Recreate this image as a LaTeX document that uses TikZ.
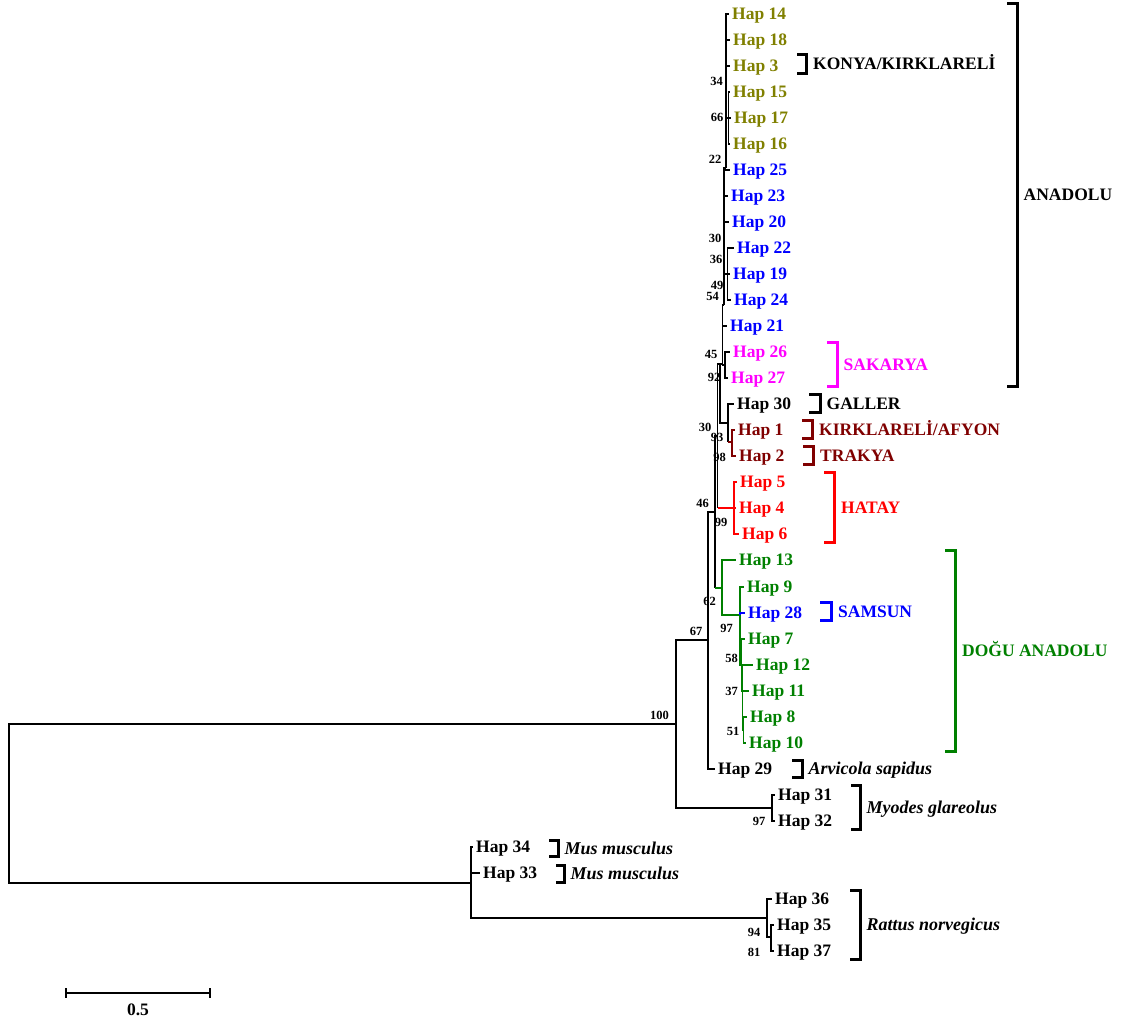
\documentclass[tikz,border=0pt]{standalone}
\usepackage{fontspec}
\setmainfont{Liberation Serif}
\usetikzlibrary{positioning}
\definecolor{colive}{HTML}{808000}
\definecolor{cblue}{HTML}{0000FF}
\definecolor{cmagenta}{HTML}{FF00FF}
\definecolor{cdarkred}{HTML}{800000}
\definecolor{cred}{HTML}{FF0000}
\definecolor{cgreen}{HTML}{008000}
\tikzset{
  branch/.style={line width=1.9pt},
  grp/.style={line width=3pt},
  hap/.style={font=\fontsize{17.5}{18}\selectfont\bfseries, inner sep=0pt, text height=11.8pt, text depth=0pt, anchor=west},
  sp/.style={hap, font=\fontsize{18}{19}\selectfont\bfseries\itshape},
  boot/.style={font=\fontsize{12.5}{13}\selectfont\bfseries, inner sep=0pt},
}
\begin{document}
\begin{tikzpicture}[x=1pt, y=-1pt]
  \useasboundingbox (0,0) rectangle (1130,1025);

  % Internal nodes of the tree
  \foreach \n/\x/\y in {root/9/803.5, n100/676/724, nMy/772/808, nA/708/640, nB/715/512,
      nC/717.5/436, nD/720/364, nE/722.5/364, nF/724/305, nO/726/168, n66/728.5/118,
      n36/727.5/274, n92/725/365, nK/728/423, n98/732/442, nH/734/508, nG/722/588,
      nG2/740/615, nG3/741.5/665, nG4/742.5/691, nG5/743.5/730, nMus/471/883,
      nR1/767/918, nR2/771/937}
    \coordinate (\n) at (\x,\y);

  % Bootstrap values
  \foreach \v/\x/\y [count=\k] in {34/716.5/81, 66/717/117, 22/715/159, 30/715/238, 36/716/259,
      49/717/285, 54/712.5/296, 45/711/354, 92/714/377, 30/705/427, 93/717/437, 98/719.5/457,
      46/702.5/503, 99/721/522, 62/709.5/601, 97/726.5/628, 58/731.5/658, 37/731.5/691,
      51/733/731, 67/696/631, 100/659.5/715, 97/759/821, 94/754/932, 81/754/952}
    \node[boot] (b\k) at (\x,\y) {\v};

  % Leaves: tip, then label
  \foreach \id/\x/\y/\col in {14/729/14/colive, 18/730/40/colive, 3/730/66/colive,
      15/730/92/colive, 17/731/118/colive, 16/730/144/colive, 25/730/170/cblue,
      23/728/196/cblue, 20/729/222/cblue, 22/734/248/cblue, 19/730/274/cblue,
      24/731/300/cblue, 21/727/326/cblue, 26/730/352/cmagenta, 27/728/378/cmagenta,
      30/734/404/black, 1/735/430/cdarkred, 2/736/456/cdarkred, 5/737/482/cred,
      4/736/508/cred, 6/739/534/cred, 13/736/560/cgreen, 9/744/587/cgreen,
      28/745/613/cblue, 7/745/639/cgreen, 12/753/665/cgreen, 11/749/691/cgreen,
      8/747/717/cgreen, 10/746/743/cgreen, 29/715/769/black, 31/775/795/black,
      32/775/821/black, 34/473/847/black, 33/480/873/black, 36/772/899/black,
      35/774/925/black, 37/774/951/black}
  {
    \coordinate (t\id) at (\x,\y);
    \node[hap, text=\col, right=3pt of t\id] (h\id) {Hap \id};
  }

  % Black branches
  \foreach \p/\c in {root/n100, root/nMus, n100/nA, n100/nMy, nMy/t31, nMy/t32,
      nA/nB, nA/t29, nB/nC, nC/nD, nD/nE, nD/nK, nE/nF, nE/t21, nE/n92,
      nF/nO, nF/t25, nF/t23, nF/t20, nF/n36, n36/t22, n36/t19, n36/t24,
      nO/t14, nO/t18, nO/t3, nO/n66, n66/t15, n66/t17, n66/t16, n92/t26, n92/t27,
      nK/t30, nMus/t34, nMus/t33, nMus/nR1, nR1/t36, nR1/nR2, nR2/t35, nR2/t37}
    \draw[branch] (\p) |- (\c);

  % Coloured clades
  \draw[branch] (nB) -- (nB |- nG);
  \draw[branch, cgreen] (nB |- nG) -- (nG);
  \draw[branch] (nC) -- (nC |- nH);
  \draw[branch, cred] (nC |- nH) -- (nH);
  \draw[branch] (nK) -- (nK |- n98);
  \draw[branch, cdarkred] (nK |- n98) -- (n98);
  \foreach \c in {t1, t2}
    \draw[branch, cdarkred] (n98) |- (\c);
  \foreach \c in {t5, t4, t6}
    \draw[branch, cred] (nH) |- (\c);
  \foreach \p/\c in {nG/t13, nG/nG2, nG2/t9, nG2/nG3, nG3/t7, nG3/nG4, nG4/t12,
      nG4/t11, nG4/nG5, nG5/t8, nG5/t10}
    \draw[branch, cgreen] (\p) |- (\c);
  \draw[branch, cblue] (nG2) |- (t28);

  % Region brackets
  \foreach \xa/\xb/\ya/\yb/\col/\txt [count=\k] in {797/806.5/54.5/73.5/black/{KONYA/KIRKLARELİ},
      1007/1017/3.5/386.5/black/ANADOLU, 827/837/342.5/386.5/cmagenta/SAKARYA,
      809/820/394.5/412.5/black/GALLER, 802/812.5/420.5/438.5/cdarkred/{KIRKLARELİ/AFYON},
      803/813.5/446.5/464.5/cdarkred/TRAKYA, 824/834.5/472.5/542.5/cred/HATAY,
      820/831.5/602.5/620.5/cblue/SAMSUN, 945/955.5/550.5/751.5/cgreen/{DOĞU ANADOLU}}
  {
    \draw[grp, \col] (\xa,\ya) -| (\xb,\yb) -- (\xa,\yb);
    \node[hap, text=\col] (g\k) at ({\xb+6.5},{(\ya+\yb)/2}) {\txt};
  }

  % Species brackets
  \foreach \xa/\xb/\ya/\yb/\txt [count=\k] in {792/802.5/760.5/777.5/Arvicola sapidus,
      851/860.5/785.5/829.5/Myodes glareolus, 549/558.5/840.5/856.5/Mus musculus,
      556/564.5/865.5/882.5/Mus musculus, 850/860.5/890.5/959.5/Rattus norvegicus}
  {
    \draw[grp] (\xa,\ya) -| (\xb,\yb) -- (\xa,\yb);
    \node[sp] (s\k) at ({\xb+6},{(\ya+\yb)/2}) {\txt};
  }

  % Scale bar
  \coordinate (sbl) at (66,993);
  \coordinate (sbr) at (210,993);
  \draw[branch] (sbl) -- (sbr);
  \draw[branch] ([yshift=5pt]sbl) -- ([yshift=-5pt]sbl);
  \draw[branch] ([yshift=5pt]sbr) -- ([yshift=-5pt]sbr);
  \node[hap, anchor=center] (sbt) at (138,1010) {0.5};
\end{tikzpicture}
\end{document}
